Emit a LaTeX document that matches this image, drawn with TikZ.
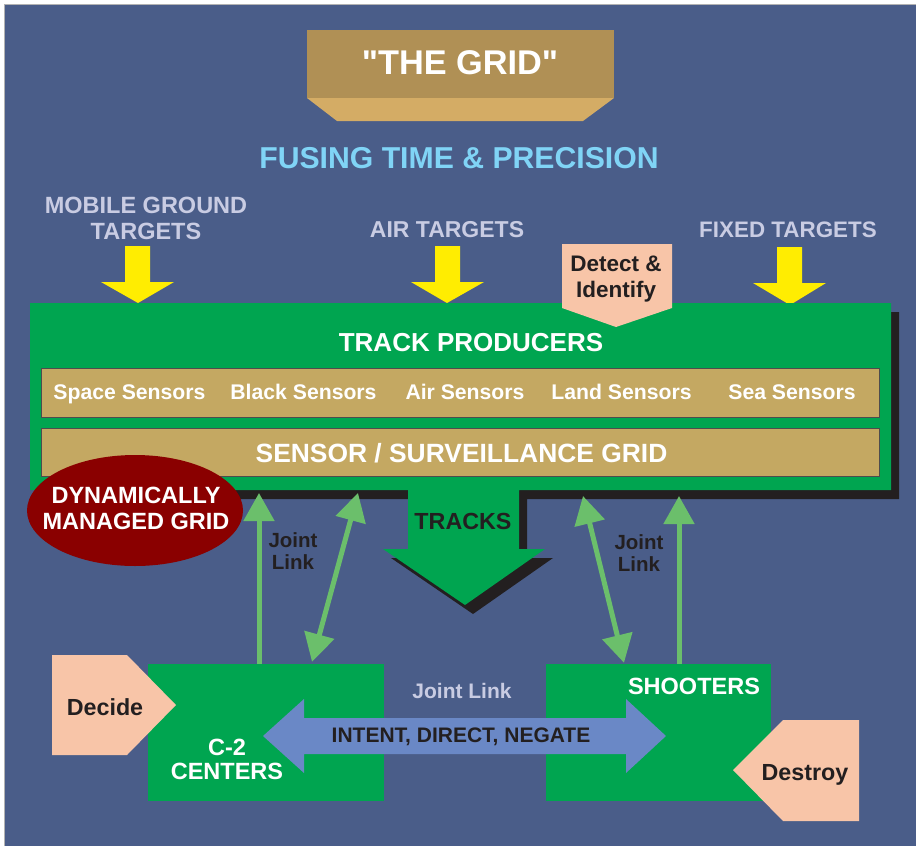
\documentclass[tikz,border=0pt]{standalone}
\usepackage{fontspec}
\setmainfont{Liberation Sans}[Ligatures=TeXOff]
\usetikzlibrary{arrows.meta,calc}
\definecolor{bg}{HTML}{4A5D89}
\definecolor{grn}{HTML}{00A550}
\definecolor{tan}{HTML}{C4A862}
\definecolor{titletop}{HTML}{B09055}
\definecolor{titlebot}{HTML}{D4AC65}
\definecolor{dred}{HTML}{8A0000}
\definecolor{peach}{HTML}{F8C5A8}
\definecolor{lgrn}{HTML}{6BBF6B}
\definecolor{barrow}{HTML}{6A88C6}
\definecolor{dark}{HTML}{231F20}
\definecolor{lightlbl}{HTML}{C9CCE3}
\definecolor{skyblue}{HTML}{80D4F6}
\newcommand\fsz[2]{\fontsize{#1}{#2}\selectfont\bfseries}
\tikzset{
  wt/.style={text=white, align=center},
  dk/.style={text=dark, align=center},
  lt/.style={text=lightlbl, align=center},
  yarrow/.style={fill=yellow!95!orange, draw=none},
  link/.style={draw=lgrn, line width=5pt, -{Triangle[width=30pt,length=28pt]}},
  dlink/.style={draw=lgrn, line width=5pt, {Triangle[width=30pt,length=28pt]}-{Triangle[width=30pt,length=28pt]}},
  bar/.style={fill=tan, draw=dark!80, line width=0.8pt},
  box/.style={fill=grn, draw=none},
  sens/.style={wt, anchor=base, font=\fsz{21.2}{24}},
}
\begin{document}
\begin{tikzpicture}[x=1pt,y=-1pt, every node/.style={inner sep=0pt}]
\useasboundingbox (0,0) rectangle (916,846);
\fill[white] (0,0) rectangle (916,846);
\fill[bg] (4.5,4.5) rectangle (916,846);
\draw[gray!60, line width=0.6pt] (916,4.5) -- (4.5,4.5) -- (4.5,846);

% title block
\fill[titletop] (307,30) rectangle (614,98);
\fill[titlebot] (307,98) -- (614,98) -- (583,121) -- (337,121) -- cycle;
\node[wt, font=\fsz{34.3}{38}] (title) at (460,63) {"THE GRID"};
\node[text=skyblue, font=\fsz{30.2}{34}] (fusing) at (459,158) {FUSING TIME \& PRECISION};

% target labels
\node[lt, font=\fsz{23.5}{26}] (mobile) at (146,218) {MOBILE GROUND\\TARGETS};
\node[lt, font=\fsz{23}{26}] (air) at (447,230) {AIR TARGETS};
\node[lt, font=\fsz{22.4}{26}] (fixed) at (788,230) {FIXED TARGETS};

% yellow arrows
\fill[yarrow] (125,246) -- (150,246) -- (150,282) -- (174,282) -- (138,303) -- (101,282) -- (125,282) -- cycle;
\fill[yarrow] (435,246) -- (460,246) -- (460,282) -- (484,282) -- (447,303) -- (411,282) -- (435,282) -- cycle;
\fill[yarrow] (777,247) -- (802,247) -- (802,283) -- (826,283) -- (790,305) -- (753,283) -- (777,283) -- cycle;

% green grid with tracks arrow (shadow first)
\fill[dark, shift={(8,9)}] (30,303) -- (891,303) -- (891,490) -- (519,490) -- (519,549) -- (545,549) -- (465,605) -- (383,549) -- (408,549) -- (408,490) -- (30,490) -- cycle;
\fill[grn] (30,303) -- (891,303) -- (891,490) -- (519,490) -- (519,549) -- (545,549) -- (465,605) -- (383,549) -- (408,549) -- (408,490) -- (30,490) -- cycle;
\coordinate (gridL1) at (259,493);
\coordinate (gridL2) at (358,493);
\coordinate (gridR1) at (583,496);
\coordinate (gridR2) at (679,496);

% detect & identify
\fill[peach] (562,244) -- (672,244) -- (672,308) -- (616,327) -- (562,308) -- cycle;
\node[dk, font=\fsz{22.5}{26}] (detect) at (616,279) {Detect \&\\Identify};

\node[wt, font=\fsz{26}{28}] (producers) at (471,343) {TRACK PRODUCERS};

% sensor bars
\node[bar, minimum width=838pt, minimum height=49pt] (sensors) at (460,392.5) {};
\node[sens] (space) at (129.5,399) {Space Sensors};
\node[sens] (black) at (303.5,399) {Black Sensors};
\node[sens] (airs) at (465,399) {Air Sensors};
\node[sens] (land) at (621.5,399) {Land Sensors};
\node[sens] (sea) at (792,399) {Sea Sensors};
\node[bar, minimum width=838pt, minimum height=48pt] (surv) at (460,452) {};
\node[wt, font=\fsz{26.4}{30}] (survtext) at (461.5,453) {SENSOR / SURVEILLANCE GRID};

\node[dk, font=\fsz{23.3}{26}] (tracks) at (463,521) {TRACKS};

% dynamically managed grid
\fill[dred] (135,510.5) ellipse [x radius=108, y radius=55.5];
\node[wt, font=\fsz{23.5}{26}] (dyn) at (136,508) {DYNAMICALLY\\MANAGED GRID};

% lower boxes
\node[box, minimum width=236pt, minimum height=137pt] (c2) at (266,732.5) {};
\node[box, minimum width=225pt, minimum height=137pt] (shoot) at (658.5,732.5) {};

% decide / destroy
\fill[peach] (52,655) -- (127,655) -- (176,705) -- (127,755) -- (52,755) -- cycle;
\node[dk, font=\fsz{23.3}{26}] (decide) at (105,707) {Decide};
\fill[peach] (859,720) -- (859,821) -- (783,821) -- (733,770) -- (783,720) -- cycle;
\node[dk, anchor=base, font=\fsz{23.3}{26}] (destroy) at (805,780) {Destroy};

\node[wt, font=\fsz{23.5}{24}] (c2text) at (227,759) {C-2\\CENTERS};
\node[wt, font=\fsz{23.5}{26}] (shtext) at (694,686) {SHOOTERS};

% blue double arrow
\fill[barrow] (263,736) -- (304,699) -- (304,718) -- (626,718) -- (626,699) -- (666,736) -- (626,773) -- (626,754) -- (304,754) -- (304,773) -- cycle;
\node[dk, font=\fsz{21}{24}] (intent) at (461,737) {INTENT, DIRECT, NEGATE};
\node[lt, font=\fsz{21}{24}] (jlmid) at (462,691) {Joint Link};

% green links
\draw[link] ($(c2.north)+(-7,0)$) -- (gridL1);
\draw[dlink] ($(c2.north)+(46,-2)$) -- (gridL2);
\draw[dlink] ($(shoot.north)+(-34.5,-1)$) -- (gridR1);
\draw[link] ($(shoot.north)+(20.5,0)$) -- (gridR2);
\node[dk, font=\fsz{20.5}{22}] (jlleft) at (293,551) {Joint\\Link};
\node[dk, font=\fsz{20.5}{22}] (jlright) at (639,553) {Joint\\Link};
\end{tikzpicture}
\end{document}
